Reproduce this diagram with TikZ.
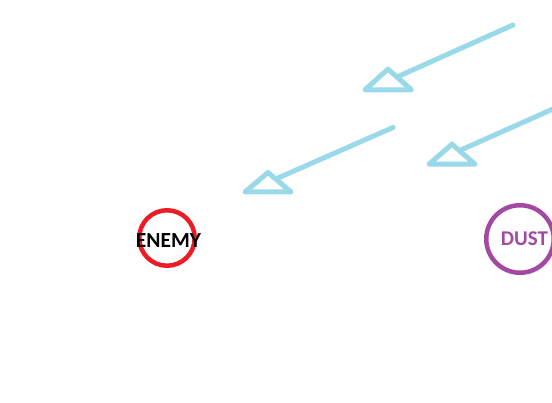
\documentclass[tikz,border=0pt]{standalone}
\usepackage{fontspec}
\setmainfont{Carlito}
\definecolor{turq}{RGB}{153,217,234}
\definecolor{pred}{RGB}{237,28,36}
\definecolor{ppurple}{RGB}{163,73,164}
\begin{document}
\begin{tikzpicture}[x=1pt,y=-1pt,
  ray/.style={draw=turq,line width=5pt,line cap=round,line join=round},
  ring/.style={circle,line width=4.5pt,inner sep=0pt},
  tag/.style={font=\bfseries,inner sep=0pt}]
\useasboundingbox (0,0) rectangle (552,403);
\clip (0,0) rectangle (552,403);
% arrow 1
\coordinate (a1s) at (513,25);
\coordinate (a1e) at (397,77);
\coordinate (a1t) at (388,69.2);
\coordinate (a1l) at (365,89.8);
\coordinate (a1r) at (411.5,89.8);
\draw[ray] (a1s) -- (a1e);
\draw[ray] (a1t) -- (a1l) -- (a1r) -- cycle;
% arrow 2
\coordinate (a2s) at (562,105);
\coordinate (a2e) at (462,149.5);
\coordinate (a2t) at (452,144.2);
\coordinate (a2l) at (429,164.2);
\coordinate (a2r) at (475,164.2);
\draw[ray] (a2s) -- (a2e);
\draw[ray] (a2t) -- (a2l) -- (a2r) -- cycle;
% arrow 3
\coordinate (a3s) at (393,127.5);
\coordinate (a3e) at (278,178);
\coordinate (a3t) at (268,172.5);
\coordinate (a3l) at (245,192);
\coordinate (a3r) at (291,192);
\draw[ray] (a3s) -- (a3e);
\draw[ray] (a3t) -- (a3l) -- (a3r) -- cycle;
% enemy
\node[ring,draw=pred,minimum size=55.5pt] (enemy) at (167,238) {};
\node[tag,font=\bfseries\fontsize{21.5}{21.5}\selectfont,text=black] (enemyt) at (168.5,240.5) {ENEMY};
% dust
\node[ring,draw=ppurple,minimum size=67.5pt] (dust) at (520,239) {};
\node[tag,font=\bfseries\fontsize{21}{21}\selectfont,text=ppurple] (dustt) at (524.5,238.8) {DUST};
\end{tikzpicture}
\end{document}
